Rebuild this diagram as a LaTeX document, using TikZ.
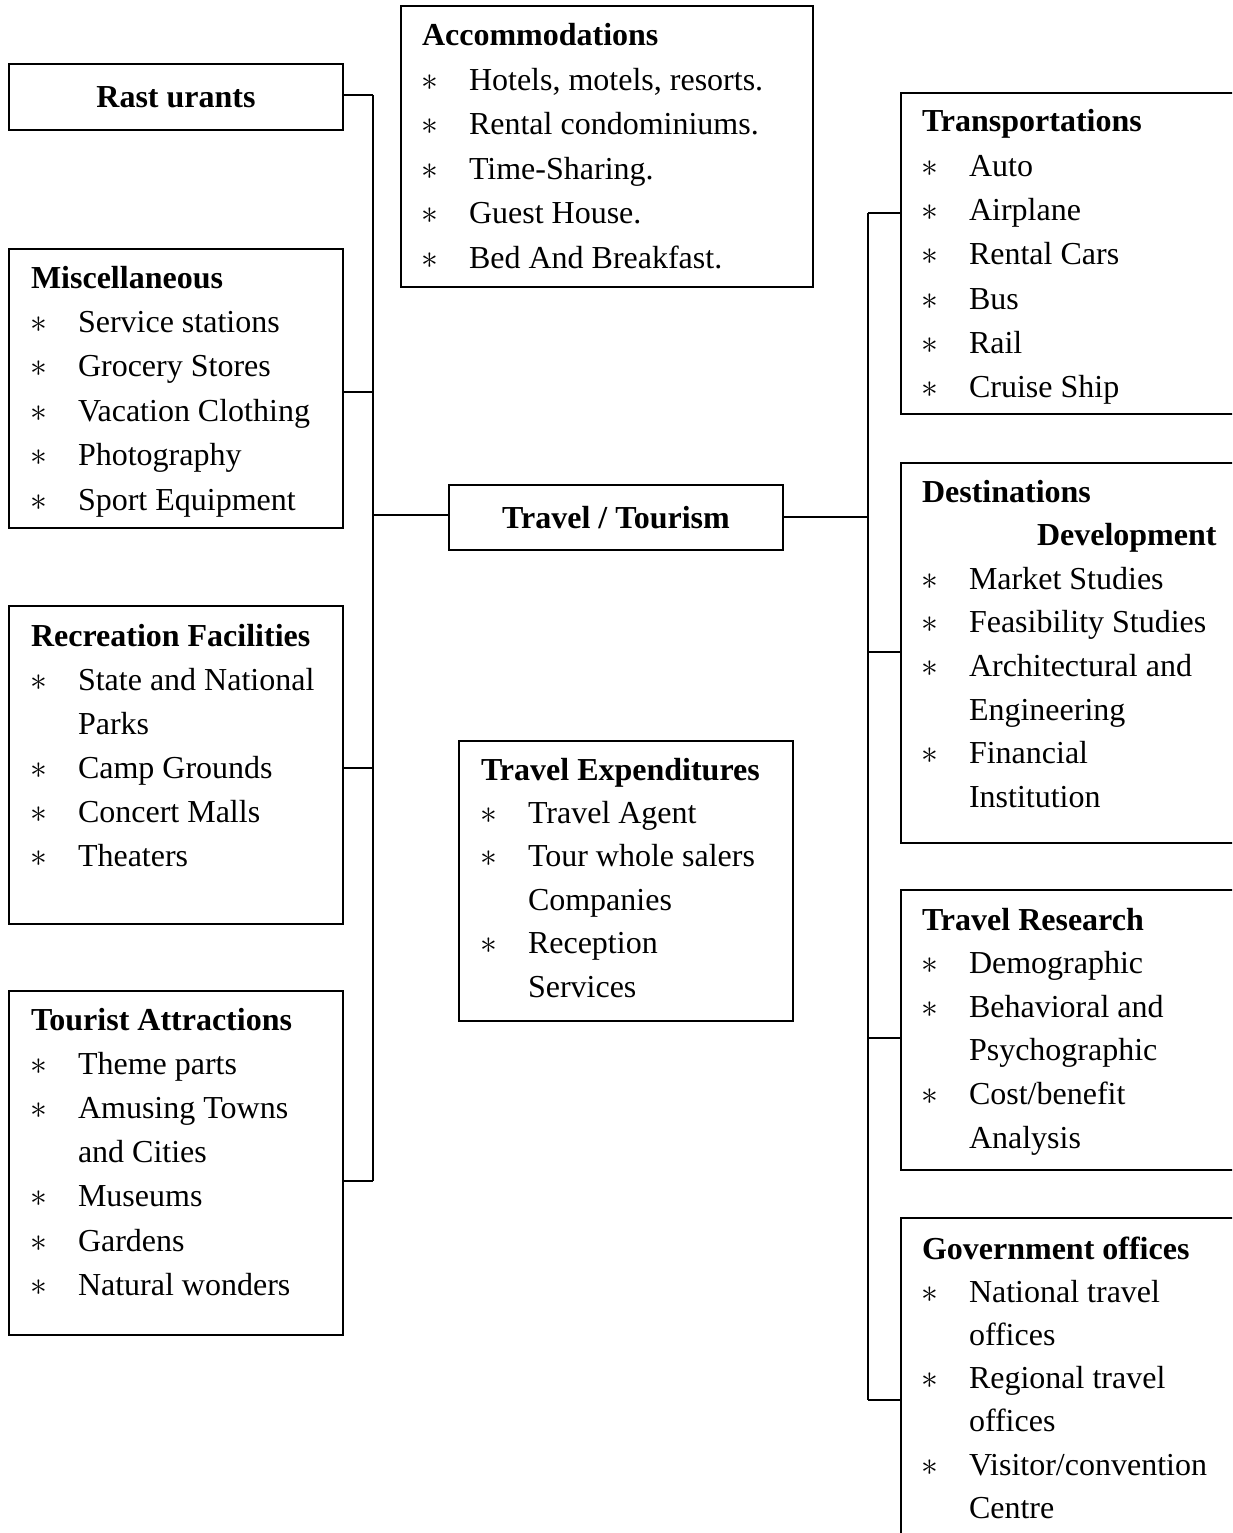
\documentclass[tikz,border=0pt]{standalone}
\usepackage{fontspec}
\setmainfont{Liberation Serif}
% line prefixes: h = heading, d = indented heading, b = bulleted item, c = continuation
\newcommand\pfxh{\bfseries}
\newcommand\pfxd{\hspace*{115pt}\bfseries}
\newcommand\pfxb{\makebox[47pt][l]{\hspace*{-1pt}\scalebox{1.35}{$\ast$}}}
\newcommand\pfxc{\hspace*{47pt}}
% \panel{name}{x}{first baseline}{pitch}{kind/text list}
\newcommand\panel[5]{%
  \foreach \k/\t [count=\m from 0] in {#5}
    \node[ln] (#1-\m) at (#2,{#3+\m*#4}) {\csname pfx\k\endcsname\t};}
\begin{document}
\begin{tikzpicture}[x=1pt,y=-1pt,line width=2pt,
  font=\fontsize{32}{40}\selectfont,
  box/.style={draw,rectangle,inner sep=0pt,anchor=north west},
  ln/.style={anchor=base west,inner sep=0pt},
  ttl/.style={inner sep=0pt,font=\fontsize{32}{40}\selectfont\bfseries}]
\useasboundingbox (0,0) rectangle (1232,1533);
\clip (0,0) rectangle (1232,1533);

% frames
\node[box,minimum width=334,minimum height=66]  (rast) at (8,63) {};
\node[box,minimum width=412,minimum height=281] (acc)  at (400,5) {};
\node[box,minimum width=340,minimum height=321] (trn)  at (900,92) {};
\node[box,minimum width=334,minimum height=279] (misc) at (8,248) {};
\node[box,minimum width=334,minimum height=65]  (tt)   at (448,484) {};
\node[box,minimum width=340,minimum height=380] (dest) at (900,462) {};
\node[box,minimum width=334,minimum height=318] (rec)  at (8,605) {};
\node[box,minimum width=334,minimum height=280] (texp) at (458,740) {};
\node[box,minimum width=334,minimum height=344] (tour) at (8,990) {};
\node[box,minimum width=340,minimum height=280] (res)  at (900,889) {};
\node[box,minimum width=340,minimum height=330] (gov)  at (900,1217) {};

% single-line titles
\node[ttl] (rast-t) at (rast.center) {Rast urants};
\node[ttl] (tt-t) at (tt.center) {Travel / Tourism};

% lists
\panel{acc}{421}{46}{44.4}{h/Accommodations, b/{Hotels, motels, resorts.}, b/{Rental condominiums.}, b/{Time-Sharing.}, b/{Guest House.}, b/{Bed And Breakfast.}}
\panel{trn}{921}{132}{44.3}{h/Transportations, b/Auto, b/Airplane, b/{Rental Cars}, b/Bus, b/Rail, b/{Cruise Ship}}
\panel{misc}{30}{288}{44.4}{h/Miscellaneous, b/{Service stations}, b/{Grocery Stores}, b/{Vacation Clothing}, b/Photography, b/{Sport Equipment}}
\panel{dest}{921}{502}{43.6}{h/Destinations, d/Development, b/{Market Studies}, b/{Feasibility Studies}, b/{Architectural and}, c/Engineering, b/Financial, c/Institution}
\panel{rec}{30}{646}{44.0}{h/{Recreation Facilities}, b/{State and National}, c/Parks, b/{Camp Grounds}, b/{Concert Malls}, b/Theaters}
\panel{texp}{480}{780}{43.4}{h/{Travel Expenditures}, b/{Travel Agent}, b/{Tour whole salers}, c/Companies, b/Reception, c/Services}
\panel{tour}{30}{1030}{44.2}{h/{Tourist Attractions}, b/{Theme parts}, b/{Amusing Towns}, c/{and Cities}, b/Museums, b/Gardens, b/{Natural wonders}}
\panel{res}{921}{930}{43.6}{h/{Travel Research}, b/Demographic, b/{Behavioral and}, c/Psychographic, b/{Cost/benefit}, c/Analysis}
\panel{gov}{921}{1259}{43.2}{h/{Government offices}, b/{National travel}, c/offices, b/{Regional travel}, c/offices, b/{Visitor/convention}, c/Centre}

% left trunk
\coordinate (L1) at (373,95);
\coordinate (L2) at (373,392);
\coordinate (L3) at (373,515);
\coordinate (L4) at (373,768);
\coordinate (L5) at (373,1181);
\draw (L1) -- (L5);
\draw (rast.east |- L1) -- (L1);
\draw (misc.east |- L2) -- (L2);
\draw (tt.west |- L3) -- (L3);
\draw (rec.east |- L4) -- (L4);
\draw (tour.east |- L5) -- (L5);

% right trunk
\coordinate (R1) at (868,213);
\coordinate (R2) at (868,517);
\coordinate (R3) at (868,652);
\coordinate (R4) at (868,1038);
\coordinate (R5) at (868,1400);
\draw (R1) -- (R5);
\draw (trn.west |- R1) -- (R1);
\draw (tt.east |- R2) -- (R2);
\draw (dest.west |- R3) -- (R3);
\draw (res.west |- R4) -- (R4);
\draw (gov.west |- R5) -- (R5);
\end{tikzpicture}
\end{document}
